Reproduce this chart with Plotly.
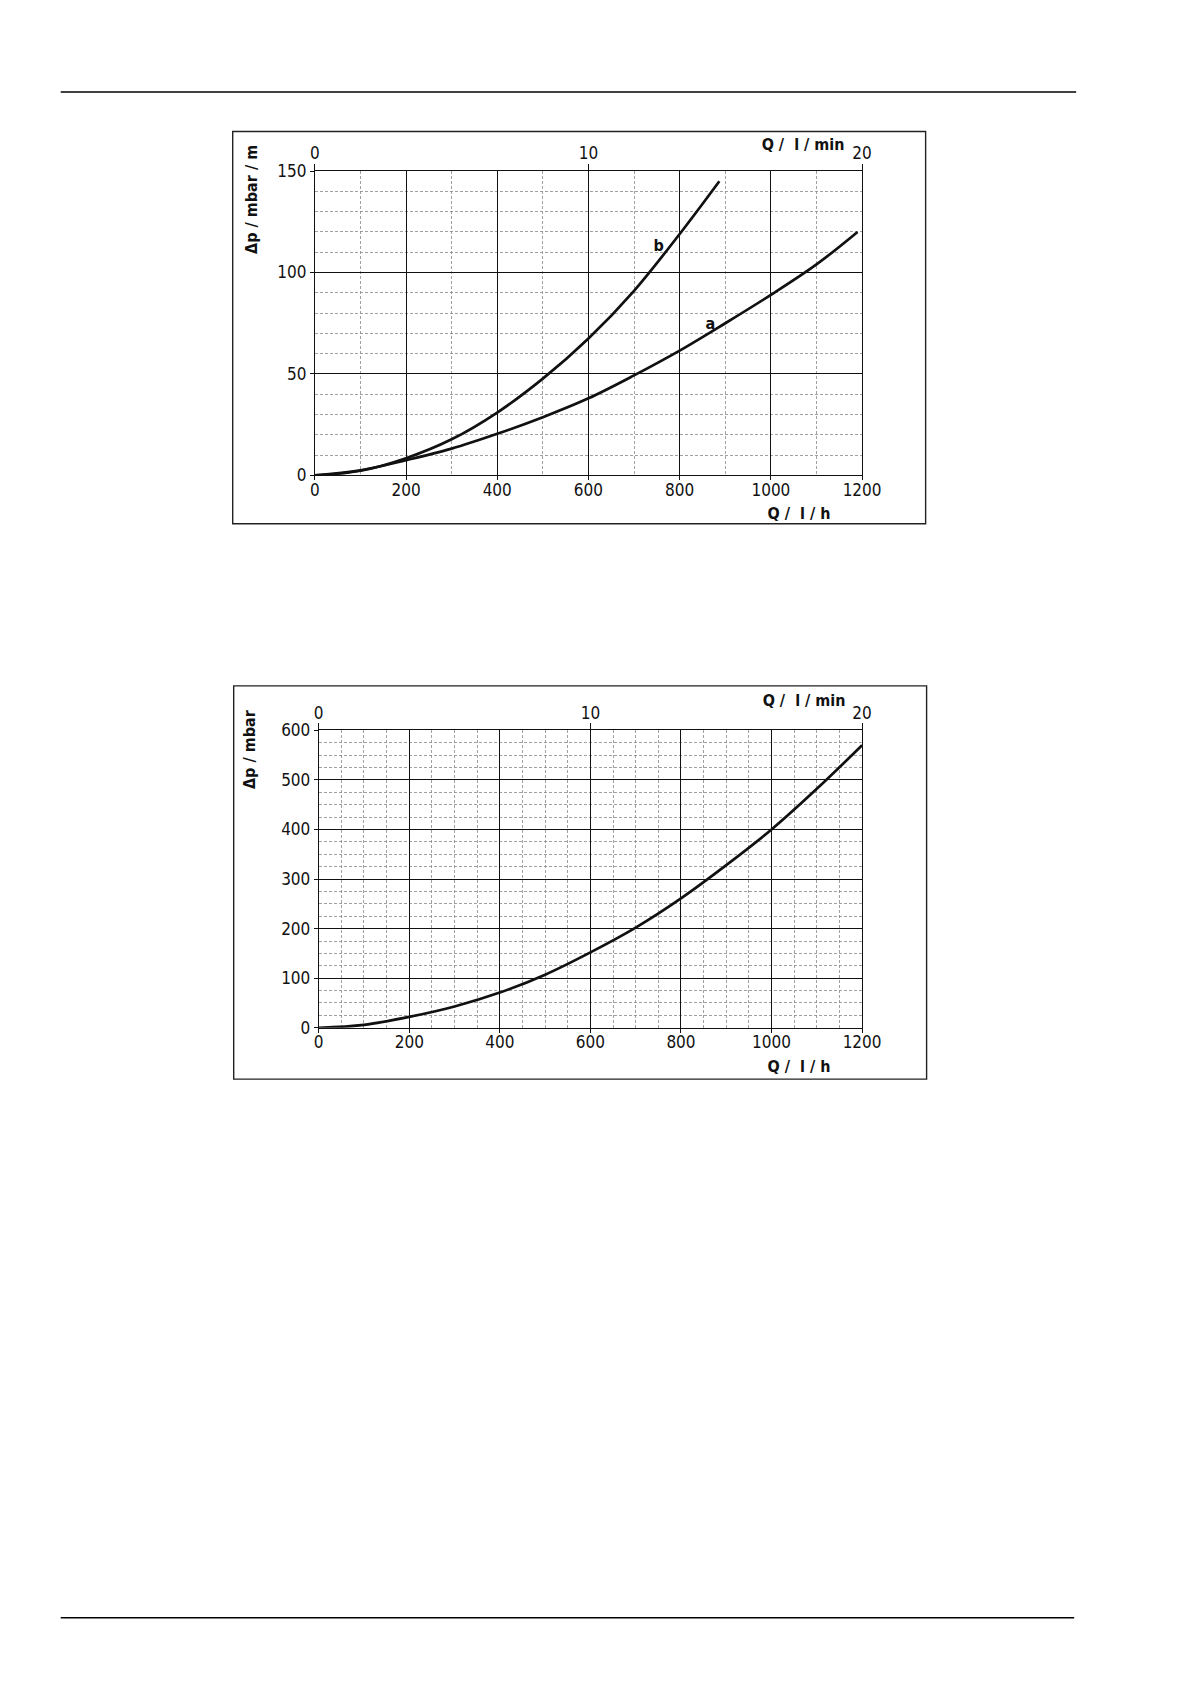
import plotly.graph_objects as go

# ---------------- data ----------------
# Chart 1: pressure loss per metre, curves a and b
q_a = [0, 100, 200, 300, 400, 500, 600, 700, 800, 900, 1000, 1100, 1190]
dp_a = [0, 2.5, 7.5, 13.2, 20.5, 28.7, 38, 49.3, 61.5, 75, 89, 104, 120]
q_b = [0, 100, 200, 300, 400, 500, 600, 700, 800, 887]
dp_b = [0, 2.3, 8.5, 17.8, 31, 47.7, 67.5, 91, 119, 145]
# Chart 2: pressure loss
q_c = [0, 100, 200, 300, 400, 500, 600, 700, 800, 900, 1000, 1100, 1200]
dp_c = [0, 6, 22, 43, 71, 107, 152, 202, 261, 328, 400, 482, 570]

x_ticks = [0, 200, 400, 600, 800, 1000, 1200]
top_ticks = [0, 10, 20]
y1_ticks = [0, 50, 100, 150]
y2_ticks = [0, 100, 200, 300, 400, 500, 600]

W, H = 1190, 1684
FONT = "DejaVu Sans, sans-serif"
INK = "#111111"

def px(x):
    return x / W

def py(y):
    return 1 - y / H

fig = go.Figure()

line_style = dict(color=INK, width=2.7, shape="spline", smoothing=1.0)
fig.add_trace(go.Scatter(x=q_a, y=dp_a, mode="lines", line=line_style, xaxis="x", yaxis="y", showlegend=False))
fig.add_trace(go.Scatter(x=q_b, y=dp_b, mode="lines", line=line_style, xaxis="x", yaxis="y", showlegend=False))
fig.add_trace(go.Scatter(x=[0, 20], y=[None, None], mode="lines", xaxis="x2", yaxis="y", showlegend=False, hoverinfo="skip"))
fig.add_trace(go.Scatter(x=q_c, y=dp_c, mode="lines", line=line_style, xaxis="x3", yaxis="y2", showlegend=False))
fig.add_trace(go.Scatter(x=[0, 20], y=[None, None], mode="lines", xaxis="x4", yaxis="y2", showlegend=False, hoverinfo="skip"))

tick_font = dict(family=FONT, size=17, color=INK)
DASH = "3px,2px"

def xbottom(domain, minor_dtick, anchor):
    return dict(
        domain=domain, range=[0, 1200], anchor=anchor, tickvals=x_ticks,
        showgrid=True, gridcolor=INK, gridwidth=1,
        minor=dict(dtick=minor_dtick, tick0=0, showgrid=True, gridcolor="#8a8a8a", gridwidth=0.8, griddash=DASH, ticks=""),
        showline=True, linecolor=INK, linewidth=1, mirror=True,
        ticks="outside", ticklen=4, tickcolor=INK, tickwidth=1,
        ticklabelstandoff=-5,
        tickfont=tick_font, zeroline=False, fixedrange=True,
    )

def xtop(overlay, anchor):
    return dict(
        overlaying=overlay, side="top", anchor=anchor, range=[0, 20], tickvals=top_ticks,
        showgrid=False, zeroline=False, showline=False,
        ticks="outside", ticklen=6, tickcolor=INK, tickwidth=1,
        ticklabelstandoff=-2,
        tickfont=tick_font, fixedrange=True,
    )

def yleft(domain, rng, ticks, minor_dtick, anchor):
    return dict(
        domain=domain, range=rng, anchor=anchor, tickvals=ticks,
        showgrid=True, gridcolor=INK, gridwidth=1,
        minor=dict(dtick=minor_dtick, tick0=0, showgrid=True, gridcolor="#8a8a8a", gridwidth=0.8, griddash=DASH, ticks=""),
        showline=True, linecolor=INK, linewidth=1, mirror=True,
        ticks="outside", ticklen=4, tickcolor=INK, tickwidth=1,
        tickfont=tick_font, zeroline=False, fixedrange=True,
    )

c1x = [px(317), px(877)]
c1y = [py(471), py(163)]
c2x = [px(321), px(877)]
c2y = [py(1030), py(729)]

fig.update_layout(
    width=W, height=H, margin=dict(l=0, r=0, t=0, b=0),
    paper_bgcolor="white", plot_bgcolor="white",
    xaxis=xbottom(c1x, 100, "y"),
    xaxis2=xtop("x", "y"),
    yaxis=yleft(c1y, [0, 150], y1_ticks, 10, "x"),
    xaxis3=xbottom(c2x, 50, "y2"),
    xaxis4=xtop("x3", "y2"),
    yaxis2=yleft(c2y, [0, 600], y2_ticks, 25, "x3"),
    font=dict(family=FONT, color=INK),
)

shapes = []
# page rules
shapes.append(dict(type="line", xref="paper", yref="paper", x0=px(57), x1=px(1096), y0=py(83), y1=py(83), line=dict(color="black", width=1.6)))
shapes.append(dict(type="line", xref="paper", yref="paper", x0=px(57), x1=px(1094), y0=py(1627), y1=py(1627), line=dict(color="black", width=1.6)))
# chart frames
shapes.append(dict(type="rect", xref="paper", yref="paper", x0=px(233), x1=px(942), y0=py(520), y1=py(123), line=dict(color="#222", width=1.4)))
shapes.append(dict(type="rect", xref="paper", yref="paper", x0=px(234), x1=px(943), y0=py(1082), y1=py(684), line=dict(color="#222", width=1.4)))
fig.update_layout(shapes=shapes)

title_font = dict(family=FONT, size=16, color=INK)
ann = []
ann.append(dict(text="<b>Δp / mbar / m</b>", xref="paper", yref="paper", x=px(252), y=py(192), textangle=-90, showarrow=False, font=title_font, xanchor="center", yanchor="middle"))
ann.append(dict(text="<b>Q /  l / min</b>", xref="paper", yref="paper", x=px(817), y=py(136), showarrow=False, font=title_font, xanchor="center", yanchor="middle"))
ann.append(dict(text="<b>Q /  l / h</b>", xref="paper", yref="paper", x=px(812), y=py(510), showarrow=False, font=title_font, xanchor="center", yanchor="middle"))
ann.append(dict(text="<b>b</b>", xref="x", yref="y", x=754, y=113.5, showarrow=False, font=title_font))
ann.append(dict(text="<b>a</b>", xref="x", yref="y", x=868, y=75, showarrow=False, font=title_font))
ann.append(dict(text="<b>Δp / mbar</b>", xref="paper", yref="paper", x=px(250), y=py(748), textangle=-90, showarrow=False, font=title_font, xanchor="center", yanchor="middle"))
ann.append(dict(text="<b>Q /  l / min</b>", xref="paper", yref="paper", x=px(818), y=py(699), showarrow=False, font=title_font, xanchor="center", yanchor="middle"))
ann.append(dict(text="<b>Q /  l / h</b>", xref="paper", yref="paper", x=px(812), y=py(1069), showarrow=False, font=title_font, xanchor="center", yanchor="middle"))
fig.update_layout(annotations=ann)

post = """
document.body.style.margin = '0';
document.body.style.overflow = 'hidden';
var st = document.createElement('style');
st.textContent = '.main-svg text { font-stretch: condensed !important; }';
document.head.appendChild(st);
var gd = document.getElementById('{plot_id}');
Plotly.newPlot(gd, gd.data, gd.layout, {staticPlot: true});
"""

fig.write_html("out.html", post_script=post)
